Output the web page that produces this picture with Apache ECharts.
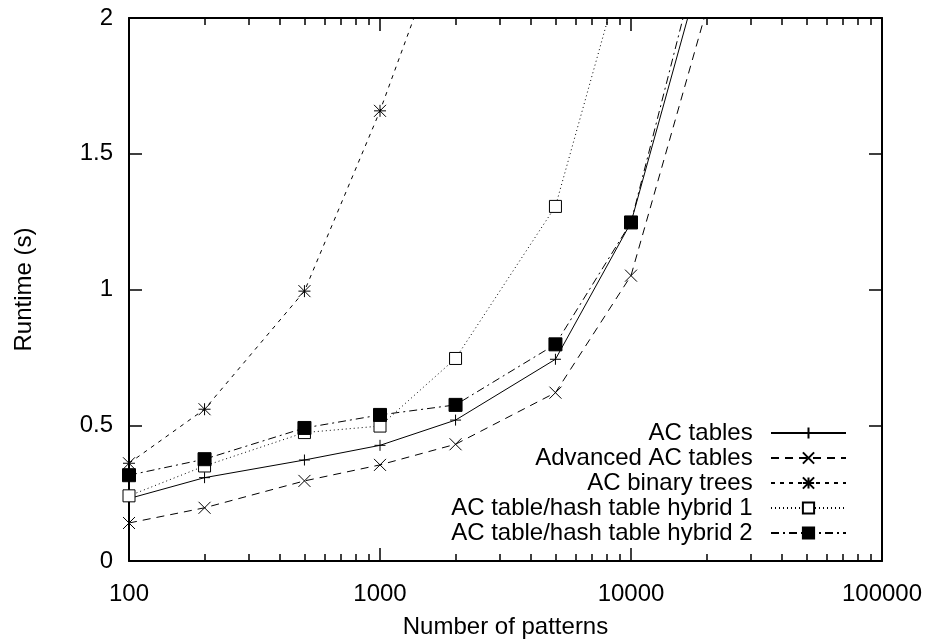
<!DOCTYPE html>
<html>
<head>
<meta charset="utf-8">
<script src="https://cdn.jsdelivr.net/npm/echarts@6/dist/echarts.min.js"></script>
<style>
  html, body { margin: 0; padding: 0; background: #fff; }
  #chart { width: 935px; height: 644px; }
</style>
</head>
<body>
<div id="chart"></div>
<script>
// number of patterns (log axis)
const patterns = [100, 200, 500, 1000, 2000, 5000, 10000, 20000]
const majorTicks = [100, 1000, 10000, 100000]
const minorTicks = [200, 300, 400, 500, 600, 700, 800, 900,
  2000, 3000, 4000, 5000, 6000, 7000, 8000, 9000,
  20000, 30000, 40000, 50000, 60000, 70000, 80000, 90000]

// runtime (s)
const acTables = [0.23, 0.307, 0.372, 0.426, 0.519, 0.743, 1.247, 2.25]
const advancedAcTables = [0.14, 0.196, 0.295, 0.354, 0.43, 0.62, 1.051, 2.03]
const acBinaryTrees = [0.36, 0.559, 0.994, 1.658, 2.42]
const hybrid1 = [0.24, 0.35, 0.473, 0.497, 0.746, 1.306, 2.30]
const hybrid2 = [0.316, 0.375, 0.49, 0.538, 0.575, 0.798, 1.247, 2.34]

const FONT = 'Liberation Sans'
const FONT_SIZE = 24
const black = '#000'

function pairs(values) {
  return values.map((v, i) => [patterns[i], v])
}

// gnuplot-like point shapes
const PLUS = 'path://M0,5L10,5M5,0L5,10'
const CROSS = 'path://M0,0L10,10M0,10L10,0'
const STAR = 'path://M0,0L10,10M0,10L10,0M0,5L10,5M5,0L5,10'

function lineSeries(name, values, symbol, lineType, fill, size) {
  return {
    name: name,
    type: 'line',
    data: pairs(values),
    symbol: symbol,
    symbolSize: size,
    showSymbol: true,
    clip: true,
    animation: false,
    lineStyle: { color: black, width: 1, type: lineType },
    itemStyle: { color: fill, borderColor: black, borderWidth: 1 },
    emphasis: { disabled: true }
  }
}

function xAxisOf(position, ticks, len, withLine, withLabel) {
  return {
    type: 'log',
    logBase: 10,
    min: 100,
    max: 100000,
    position: position,
    axisLine: { show: withLine, lineStyle: { color: black, width: 2 } },
    axisTick: { show: true, inside: true, length: len, customValues: ticks,
      lineStyle: { color: black, width: 1.5 } },
    axisLabel: { show: withLabel, customValues: majorTicks, color: black,
      fontFamily: FONT, fontSize: FONT_SIZE, margin: 21,
      formatter: v => String(Math.round(v)) },
    splitLine: { show: false },
    minorTick: { show: false }
  }
}

function yAxisOf(position, withLabel) {
  return {
    type: 'value',
    min: 0,
    max: 2,
    interval: 0.5,
    position: position,
    axisLine: { show: true, lineStyle: { color: black, width: 2 } },
    axisTick: { show: true, inside: true, length: 13, lineStyle: { color: black, width: 1.5 } },
    axisLabel: { show: withLabel, color: black, fontFamily: FONT, fontSize: FONT_SIZE, margin: 16 },
    splitLine: { show: false }
  }
}

const xMain = xAxisOf('bottom', majorTicks, 13, true, true)
xMain.name = 'Number of patterns'
xMain.nameLocation = 'middle'
xMain.nameGap = 54
xMain.nameTextStyle = { color: black, fontFamily: FONT, fontSize: FONT_SIZE }

const yMain = yAxisOf('left', true)
yMain.name = 'Runtime (s)'
yMain.nameLocation = 'middle'
yMain.nameGap = 93
yMain.nameTextStyle = { color: black, fontFamily: FONT, fontSize: FONT_SIZE }

let myEcharts = echarts.init(document.getElementById('chart'), null, { renderer: 'canvas' })
myEcharts.setOption({
  backgroundColor: '#fff',
  animation: false,
  grid: { left: 129, right: 53, top: 18, bottom: 82, containLabel: false },
  legend: {
    orient: 'vertical',
    align: 'right',
    right: 83,
    top: 416,
    itemWidth: 75,
    itemHeight: 14,
    itemGap: 1,
    selectedMode: false,
    textStyle: { color: black, fontFamily: FONT, fontSize: FONT_SIZE },
    formatter: name => name + '  ',
    data: ['AC tables', 'Advanced AC tables', 'AC binary trees',
      'AC table/hash table hybrid 1', 'AC table/hash table hybrid 2']
  },
  xAxis: [
    xMain,
    xAxisOf('bottom', minorTicks, 7, false, false),
    xAxisOf('top', majorTicks, 13, true, false),
    xAxisOf('top', minorTicks, 7, false, false)
  ],
  yAxis: [
    yMain,
    yAxisOf('right', false)
  ],
  series: [
    lineSeries('AC tables', acTables, PLUS, 'solid', black, 11),
    lineSeries('Advanced AC tables', advancedAcTables, CROSS, [8, 6], black, 12),
    lineSeries('AC binary trees', acBinaryTrees, STAR, [4, 5], black, 12),
    lineSeries('AC table/hash table hybrid 1', hybrid1, 'rect', [1, 3], '#fff', 12),
    lineSeries('AC table/hash table hybrid 2', hybrid2, 'rect', [8, 4, 2, 4], black, 13)
  ]
})
</script>
</body>
</html>
